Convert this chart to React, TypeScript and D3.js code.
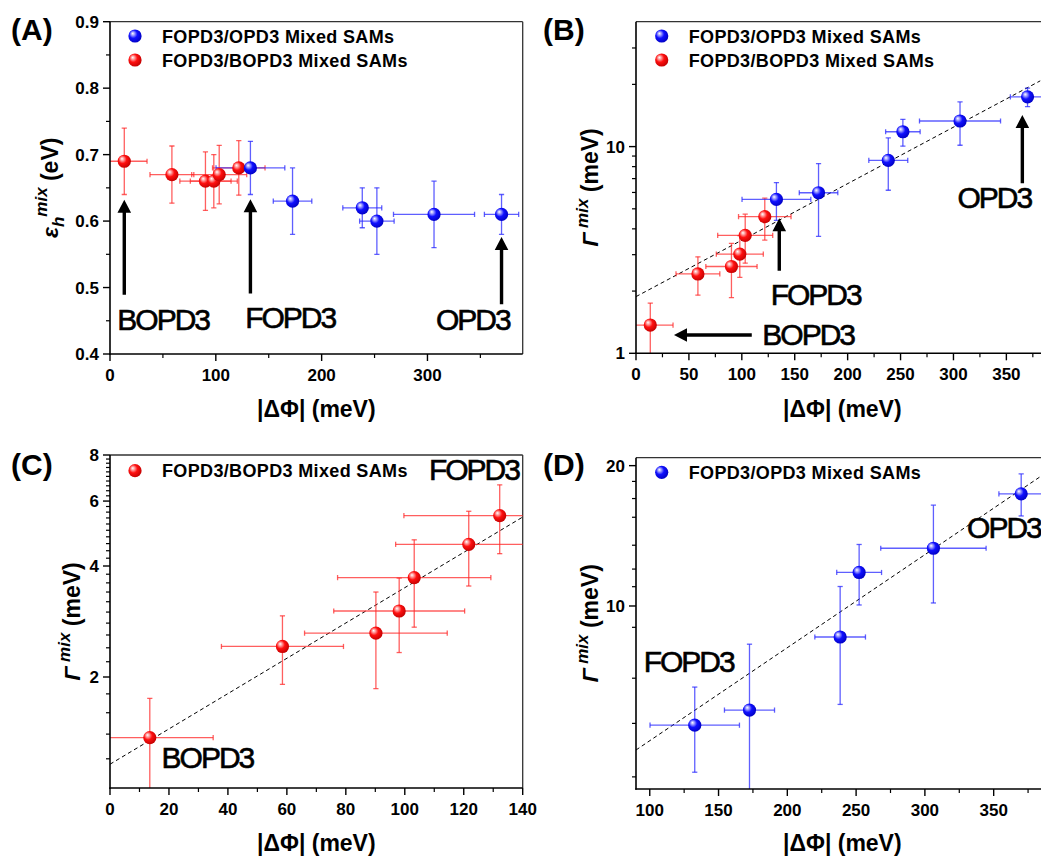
import React from 'react';
import * as d3 from 'd3';

const FONT = '"Liberation Sans", Arial, Helvetica, sans-serif';

// ---------- data ----------
// FOPD3/BOPD3 mixed SAMs
const redDphi = [13.5, 58.5, 90.2, 98.1, 103.2, 121.7, 132.2];
const redDphiErr = [21.5, 20.7, 24.2, 22.2, 26.0, 24.8, 32.5];
const redEps = [0.69, 0.67, 0.66, 0.66, 0.67, 0.68];
const redEpsErr = [0.05, 0.043, 0.044, 0.04, 0.044, 0.041];
const redGamma = [1.37, 2.42, 2.63, 3.02, 3.72, 4.58, 5.48];
const redGammaErr = [0.38, 0.51, 0.77, 0.69, 0.99, 1.05, 1.16];

// FOPD3/OPD3 mixed SAMs
const blueDphi = [132.7, 172.5, 238.4, 252.2, 306.2, 370.0];
const blueDphiErr = [32.5, 18.2, 18.4, 16.3, 38.3, 16.2];
const blueEps = [0.68, 0.63, 0.62, 0.6, 0.61, 0.61];
const blueEpsErr = [0.04, 0.05, 0.03, 0.05, 0.05, 0.03];
const blueGamma = [5.55, 5.98, 8.58, 11.8, 13.3, 17.4];
const blueGammaErr = [1.15, 2.3, 2.43, 1.75, 3.15, 1.8];

// dashed fit lines (end points)
const fitBX = [0, 382];
const fitBY = [1.88, 20.8];
const fitCX = [0, 140];
const fitCY = [1.16, 5.43];
const fitDX = [90, 385];
const fitDY = [4.91, 19.04];

// ticks
const xTicksA = [0, 100, 200, 300];
const xMinorA = [50, 150, 250, 350];
const yTicksA = [0.4, 0.5, 0.6, 0.7, 0.8, 0.9];
const yMinorA = [0.45, 0.55, 0.65, 0.75, 0.85];
const xTicksB = [0, 50, 100, 150, 200, 250, 300, 350];
const xMinorB = [25, 75, 125, 175, 225, 275, 325, 375];
const yTicksB = [1, 10];
const yMinorB = [2, 3, 4, 5, 6, 7, 8, 9, 20, 30];
const xTicksC = [0, 20, 40, 60, 80, 100, 120, 140];
const xMinorC = [10, 30, 50, 70, 90, 110, 130];
const yTicksC = [2, 4, 6, 8];
const yMinorC = [1.2, 1.4, 1.6, 1.8, 2.2, 2.4, 2.6, 2.8, 3, 3.2, 3.4, 3.6, 3.8, 4.2, 4.4, 4.6, 4.8, 5, 5.2, 5.4, 5.6, 5.8, 6.2, 6.4, 6.6, 6.8, 7, 7.2, 7.4, 7.6, 7.8];
const xTicksD = [100, 150, 200, 250, 300, 350];
const xMinorD = [125, 175, 225, 275, 325, 375];
const yTicksD = [10, 20];
const yMinorD = [4.3, 5.6, 7, 9, 11, 12, 13.5, 15.5, 17, 18.5];

const legendBlue = 'FOPD3/OPD3 Mixed SAMs';
const legendRed = 'FOPD3/BOPD3 Mixed SAMs';

type Series = { x: number[]; xe: number[]; y: number[]; ye: number[]; c: 'red' | 'blue' };
type Box = { l: number; r: number; t: number; b: number };
type Arrow = { x1: number; y1: number; x2: number; y2: number };
type Note = { x: number; y: number; text: string };

const ERR = { red: '#ff2a2a', blue: '#2a2aff' };

function arrowPath(x1: number, y1: number, x2: number, y2: number) {
  const dx = x2 - x1, dy = y2 - y1;
  const L = Math.hypot(dx, dy);
  const ux = dx / L, uy = dy / L;
  const px = -uy, py = ux;
  const hl = 13, hw = 6.8, sw = 1.7;
  const bx = x2 - ux * hl, by = y2 - uy * hl;
  const pts = [
    [x1 + px * sw, y1 + py * sw],
    [bx + px * sw, by + py * sw],
    [bx + px * hw, by + py * hw],
    [x2, y2],
    [bx - px * hw, by - py * hw],
    [bx - px * sw, by - py * sw],
    [x1 - px * sw, y1 - py * sw],
  ];
  return 'M' + pts.map((p) => p.join(',')).join('L') + 'Z';
}

function Panel(props: {
  id: string;
  box: Box;
  xDomain: [number, number];
  yDomain: [number, number];
  yLog: boolean;
  xTicks: number[];
  xMinor: number[];
  yTicks: number[];
  yMinor: number[];
  yFmt: (v: number) => string;
  series: Series[];
  fit?: { x: number[]; y: number[] };
  arrows: Arrow[];
  notes: Note[];
  legend: { c: 'red' | 'blue'; text: string }[];
  legendX: number;
  legendY: number;
  letter: string;
  letterPos: [number, number];
  yLabel: React.ReactNode;
  yLabelX: number;
  xLabelY: number;
}) {
  const { box } = props;
  const xs = d3.scaleLinear().domain(props.xDomain).range([box.l, box.r]);
  const ys = (props.yLog ? d3.scaleLog() : d3.scaleLinear()).domain(props.yDomain).range([box.b, box.t]);
  const clipId = 'clip' + props.id;
  const cap = 2.6;
  const lowY = (v: number) => (props.yLog && v <= 0 ? props.yDomain[0] * 0.5 : v);
  const lineGen = d3
    .line<number>()
    .x((_, i) => xs(props.fit!.x[i]))
    .y((_, i) => ys(props.fit!.y[i]));

  return (
    <g>
      <defs>
        <clipPath id={clipId}>
          <rect x={box.l} y={box.t} width={box.r - box.l} height={box.b - box.t} />
        </clipPath>
      </defs>
      {/* frame */}
      <line x1={box.l} x2={box.r} y1={box.t} y2={box.t} stroke="#333" strokeWidth={1.3} />
      <line x1={box.r} x2={box.r} y1={box.t} y2={box.b} stroke="#333" strokeWidth={1.3} />

      {/* fit */}
      {props.fit && (
        <path
          d={lineGen(props.fit.x) || ''}
          fill="none"
          stroke="#000"
          strokeWidth={1}
          strokeDasharray="4,3"
          clipPath={`url(#${clipId})`}
        />
      )}

      {/* error bars */}
      <g clipPath={`url(#${clipId})`}>
        {props.series.map((s, si) =>
          s.y.map((yv, i) => {
            const cx = xs(s.x[i]);
            const cy = ys(yv);
            const y0 = ys(lowY(yv - s.ye[i]));
            const y1 = ys(yv + s.ye[i]);
            const x0 = xs(s.x[i] - s.xe[i]);
            const x1 = xs(s.x[i] + s.xe[i]);
            return (
              <g key={`e${si}-${i}`} stroke={ERR[s.c]} strokeWidth={1.3} strokeOpacity={0.75}>
                <line x1={cx} x2={cx} y1={y0} y2={y1} />
                <line x1={cx - cap} x2={cx + cap} y1={y0} y2={y0} />
                <line x1={cx - cap} x2={cx + cap} y1={y1} y2={y1} />
                <line x1={x0} x2={x1} y1={cy} y2={cy} />
                <line x1={x0} x2={x0} y1={cy - cap} y2={cy + cap} />
                <line x1={x1} x2={x1} y1={cy - cap} y2={cy + cap} />
              </g>
            );
          })
        )}
      </g>

      {/* markers */}
      {props.series.map((s, si) =>
        s.y.map((yv, i) => (
          <circle key={`m${si}-${i}`} cx={xs(s.x[i])} cy={ys(yv)} r={6.6} fill={`url(#grad-${s.c})`} />
        ))
      )}

      {/* axes */}
      <line x1={box.l} x2={box.l} y1={box.t} y2={box.b + 0.75} stroke="#000" strokeWidth={1.6} />
      <line x1={box.l - 0.75} x2={box.r} y1={box.b} y2={box.b} stroke="#000" strokeWidth={1.6} />
      {props.xTicks.map((t) => (
        <g key={'xt' + t}>
          <line x1={xs(t)} x2={xs(t)} y1={box.b} y2={box.b + 7} stroke="#000" strokeWidth={1.4} />
          <text x={xs(t)} y={box.b + 26.5} textAnchor="middle" fontSize={17} fontWeight="bold" fontFamily={FONT}>
            {t}
          </text>
        </g>
      ))}
      {props.xMinor.map((t) => (
        <line key={'xm' + t} x1={xs(t)} x2={xs(t)} y1={box.b} y2={box.b + 4} stroke="#000" strokeWidth={1.2} />
      ))}
      {props.yTicks.map((t) => (
        <g key={'yt' + t}>
          <line x1={box.l - 7} x2={box.l} y1={ys(t)} y2={ys(t)} stroke="#000" strokeWidth={1.4} />
          <text x={box.l - 11} y={ys(t)} dy="0.36em" textAnchor="end" fontSize={17} fontWeight="bold" fontFamily={FONT}>
            {props.yFmt(t)}
          </text>
        </g>
      ))}
      {props.yMinor.map((t) => (
        <line key={'ym' + t} x1={box.l - 4} x2={box.l} y1={ys(t)} y2={ys(t)} stroke="#000" strokeWidth={1.2} />
      ))}

      {/* axis titles */}
      <text
        x={(box.l + box.r) / 2}
        y={props.xLabelY}
        textAnchor="middle"
        fontSize={23}
        fontWeight="bold"
        fontFamily={FONT}
      >
        |ΔΦ| (meV)
      </text>
      <g transform={`translate(${props.yLabelX},${(box.t + box.b) / 2}) rotate(-90)`}>
        <text textAnchor="middle" fontSize={23} fontWeight="bold" fontFamily={FONT}>
          {props.yLabel}
        </text>
      </g>

      {/* annotations */}
      {props.arrows.map((a, i) => (
        <path key={'ar' + i} d={arrowPath(xs(a.x1), ys(a.y1), xs(a.x2), ys(a.y2))} fill="#000" />
      ))}
      {props.notes.map((n, i) => (
        <text
          key={'nt' + i}
          x={xs(n.x)}
          y={ys(n.y)}
          fontSize={30}
          letterSpacing={-2}
          fontFamily={FONT}
          fill="#000"
          stroke="#000"
          strokeWidth={0.6}
        >
          {n.text}
        </text>
      ))}

      {/* legend */}
      {props.legend.map((lg, i) => (
        <g key={'lg' + i}>
          <circle cx={props.legendX} cy={props.legendY + i * 24} r={6.6} fill={`url(#grad-${lg.c})`} />
          <text
            x={props.legendX + 27}
            y={props.legendY + i * 24 + 6.7}
            fontSize={18}
            letterSpacing={0.35}
            fontWeight="bold"
            fontFamily={FONT}
          >
            {lg.text}
          </text>
        </g>
      ))}

      {/* panel letter */}
      <text x={props.letterPos[0]} y={props.letterPos[1]} fontSize={30} fontWeight="bold" fontFamily={FONT}>
        {props.letter}
      </text>
    </g>
  );
}

const GammaLabel = (
  <>
    <tspan fontStyle="italic">Γ</tspan>
    <tspan fontStyle="italic" fontSize={17} dy={-10}>
      {' mix'}
    </tspan>
    <tspan dy={10}> (meV)</tspan>
  </>
);

const EpsLabel = (
  <>
    <tspan fontStyle="italic">ε</tspan>
    <tspan fontStyle="italic" fontSize={17} dy={6}>
      h
    </tspan>
    <tspan fontStyle="italic" fontSize={17} dy={-17}>
      mix
    </tspan>
    <tspan dy={11}> (eV)</tspan>
  </>
);

export default function App() {
  const boxA = { l: 110, r: 522.7, t: 21.7, b: 354 };
  const boxB = { l: 636, r: 1048.7, t: 21.7, b: 353.3 };
  const boxC = { l: 110, r: 522.7, t: 455, b: 788 };
  const boxD = { l: 636, r: 1048.7, t: 457.7, b: 789 };

  const fmt1 = (v: number) => d3.format('.1f')(v);
  const fmt0 = (v: number) => String(v);

  const redA: Series = { x: redDphi.slice(0, redEps.length), xe: redDphiErr, y: redEps, ye: redEpsErr, c: 'red' };
  const blueA: Series = { x: blueDphi, xe: blueDphiErr, y: blueEps, ye: blueEpsErr, c: 'blue' };
  const redB: Series = { x: redDphi.slice(0, 6), xe: redDphiErr, y: redGamma.slice(0, 6), ye: redGammaErr, c: 'red' };
  const blueB: Series = { x: blueDphi, xe: blueDphiErr, y: blueGamma, ye: blueGammaErr, c: 'blue' };
  const redC: Series = { x: redDphi, xe: redDphiErr, y: redGamma, ye: redGammaErr, c: 'red' };

  return (
    <svg
      width={1041}
      height={860}
      viewBox="0 0 1041 860"
      style={{ position: 'absolute', left: 0, top: 0, background: '#fff' }}
      fontFamily={FONT}
    >
      <defs>
        <radialGradient id="grad-red" cx="0.42" cy="0.42" r="0.62" fx="0.32" fy="0.3">
          <stop offset="0" stopColor="#ffffff" />
          <stop offset="0.22" stopColor="#ff9a9a" />
          <stop offset="0.5" stopColor="#ff1010" />
          <stop offset="1" stopColor="#c00000" />
        </radialGradient>
        <radialGradient id="grad-blue" cx="0.42" cy="0.42" r="0.62" fx="0.32" fy="0.3">
          <stop offset="0" stopColor="#ffffff" />
          <stop offset="0.22" stopColor="#9a9aff" />
          <stop offset="0.5" stopColor="#1010ff" />
          <stop offset="1" stopColor="#0000c0" />
        </radialGradient>
      </defs>
      <rect x={0} y={0} width={1041} height={860} fill="#fff" />

      <Panel
        id="A"
        box={boxA}
        xDomain={[0, 390]}
        yDomain={[0.4, 0.9]}
        yLog={false}
        xTicks={xTicksA}
        xMinor={xMinorA}
        yTicks={yTicksA}
        yMinor={yMinorA}
        yFmt={fmt1}
        series={[redA, blueA]}
        arrows={[
          { x1: 13.5, y1: 0.489, x2: 13.5, y2: 0.632 },
          { x1: 132.7, y1: 0.491, x2: 132.7, y2: 0.633 },
          { x1: 370, y1: 0.475, x2: 370, y2: 0.576 },
        ]}
        notes={[
          { x: 6.9, y: 0.436, text: 'BOPD3' },
          { x: 127.7, y: 0.439, text: 'FOPD3' },
          { x: 308, y: 0.436, text: 'OPD3' },
        ]}
        legend={[
          { c: 'blue', text: legendBlue },
          { c: 'red', text: legendRed },
        ]}
        legendX={135}
        legendY={36}
        letter="(A)"
        letterPos={[11, 40]}
        yLabel={EpsLabel}
        yLabelX={58}
        xLabelY={417}
      />
      <Panel
        id="B"
        box={boxB}
        xDomain={[0, 390]}
        yDomain={[1, 40.2]}
        yLog={true}
        xTicks={xTicksB}
        xMinor={xMinorB}
        yTicks={yTicksB}
        yMinor={yMinorB}
        yFmt={fmt0}
        series={[redB, blueB]}
        fit={{ x: fitBX, y: fitBY }}
        arrows={[
          { x1: 135.4, y1: 2.51, x2: 135.4, y2: 4.5 },
          { x1: 109.4, y1: 1.226, x2: 35.9, y2: 1.226 },
          { x1: 365.1, y1: 6.64, x2: 365.1, y2: 14.2 },
        ]}
        notes={[
          { x: 127.3, y: 1.713, text: 'FOPD3' },
          { x: 119.4, y: 1.097, text: 'BOPD3' },
          { x: 303.7, y: 5.03, text: 'OPD3' },
        ]}
        legend={[
          { c: 'blue', text: legendBlue },
          { c: 'red', text: legendRed },
        ]}
        legendX={661.7}
        legendY={36}
        letter="(B)"
        letterPos={[543, 40]}
        yLabel={GammaLabel}
        yLabelX={598}
        xLabelY={417}
      />
      <Panel
        id="C"
        box={boxC}
        xDomain={[0, 140]}
        yDomain={[1, 8]}
        yLog={true}
        xTicks={xTicksC}
        xMinor={xMinorC}
        yTicks={yTicksC}
        yMinor={yMinorC}
        yFmt={fmt0}
        series={[redC]}
        fit={{ x: fitCX, y: fitCY }}
        arrows={[]}
        notes={[
          { x: 108.2, y: 6.84, text: 'FOPD3' },
          { x: 17.5, y: 1.13, text: 'BOPD3' },
        ]}
        legend={[{ c: 'red', text: legendRed }]}
        legendX={135}
        legendY={470.7}
        letter="(C)"
        letterPos={[11, 475]}
        yLabel={GammaLabel}
        yLabelX={80}
        xLabelY={851}
      />
      <Panel
        id="D"
        box={boxD}
        xDomain={[90, 390]}
        yDomain={[4.05, 20.8]}
        yLog={true}
        xTicks={xTicksD}
        xMinor={xMinorD}
        yTicks={yTicksD}
        yMinor={yMinorD}
        yFmt={fmt0}
        series={[{ x: blueDphi, xe: blueDphiErr, y: blueGamma, ye: blueGammaErr, c: 'blue' }]}
        fit={{ x: fitDX, y: fitDY }}
        arrows={[]}
        notes={[
          { x: 95.6, y: 7.23, text: 'FOPD3' },
          { x: 330.7, y: 13.99, text: 'OPD3' },
        ]}
        legend={[{ c: 'blue', text: legendBlue }]}
        legendX={661.7}
        legendY={472.3}
        letter="(D)"
        letterPos={[543, 475]}
        yLabel={GammaLabel}
        yLabelX={598}
        xLabelY={851}
      />
    </svg>
  );
}
